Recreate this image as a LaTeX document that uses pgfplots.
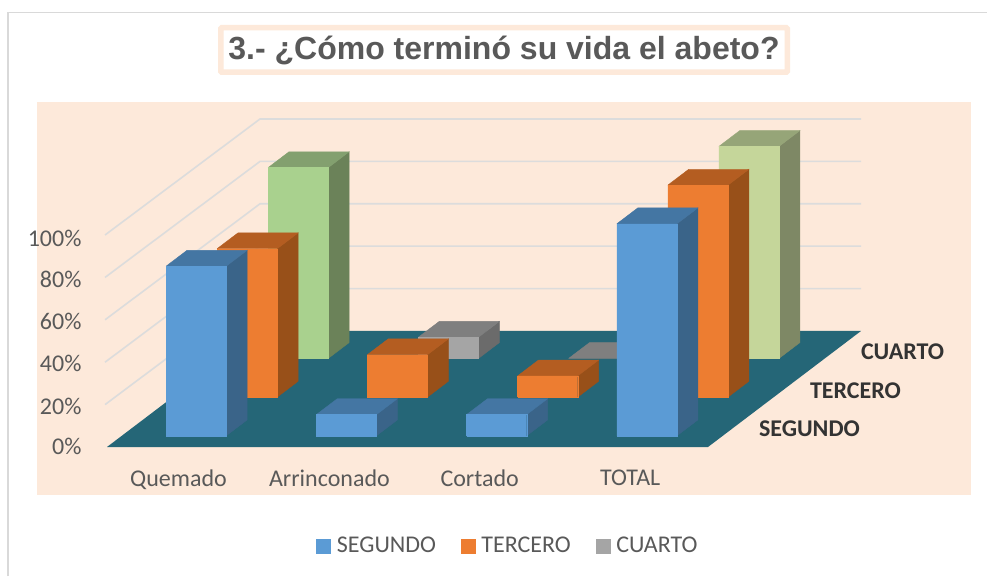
\documentclass[border=0pt]{standalone}
\usepackage{fontspec}
\usepackage{pgfplots}
\pgfplotsset{compat=1.18}
\setmainfont{Carlito}
\newfontfamily\titlefont{Liberation Sans}
\definecolor{peach}{HTML}{FDE9DA}
\definecolor{floorc}{HTML}{256677}
\definecolor{gridc}{HTML}{DCDCDC}
\definecolor{borderc}{HTML}{D9D9D9}
\definecolor{textc}{HTML}{595959}
\definecolor{serc}{HTML}{333333}
\definecolor{blueF}{HTML}{5B9BD5}\definecolor{blueS}{HTML}{3A6489}\definecolor{blueT}{HTML}{4476A3}
\definecolor{oranF}{HTML}{ED7D31}\definecolor{oranS}{HTML}{985019}\definecolor{oranT}{HTML}{B45D21}
\definecolor{grayF}{HTML}{A5A5A5}\definecolor{grayS}{HTML}{6B6B6B}\definecolor{grayT}{HTML}{7F7F7F}
\definecolor{grenF}{HTML}{A9D18E}\definecolor{grenS}{HTML}{6B8259}\definecolor{grenT}{HTML}{83A06F}
\definecolor{limeF}{HTML}{C5D69A}\definecolor{limeS}{HTML}{7E8865}\definecolor{limeT}{HTML}{96A578}
% #1 x0, #2 x1, #3 y0, #4 y1, #5 value, #6 colour prefix
\newcommand{\barthree}[6]{%
  \addplot3[forget plot,fill=#6S,draw=#6S,line width=0.4pt] coordinates {(#2,#3,0) (#2,#4,0) (#2,#4,#5) (#2,#3,#5) (#2,#3,0)};
  \addplot3[forget plot,fill=#6T,draw=#6T,line width=0.4pt] coordinates {(#1,#3,#5) (#2,#3,#5) (#2,#4,#5) (#1,#4,#5) (#1,#3,#5)};
  \addplot3[forget plot,fill=#6F,draw=#6F,line width=0.4pt] coordinates {(#1,#3,0) (#2,#3,0) (#2,#3,#5) (#1,#3,#5) (#1,#3,0)};
}
\begin{document}
\begin{tikzpicture}[x=1pt,y=1pt]
\useasboundingbox (0,0) rectangle (987,576);
\fill[white] (0,0) rectangle (987,576);
\draw[borderc,line width=1.3pt] (8,0) -- (8,563.5) -- (987,563.5);
\fill[peach] (37,81) rectangle (971,474);
\draw[peach,line width=5.5pt,fill=white,rounded corners=1pt] (220.75,503.75) rectangle (787.25,548.25);
\node[text=textc,font=\titlefont\bfseries\fontsize{32}{36}\selectfont,anchor=center] at (504,526) {3.- ¿Cómo terminó su vida el abeto?};
\begin{axis}[
  at={(107pt,129pt)},anchor=origin,
  x={(150.25pt,0pt)},y={(51pt,38.67pt)},z={(0pt,2.12pt)},
  xmin=0,xmax=4,ymin=0,ymax=3,zmin=0,zmax=100,
  clip=false,
  axis line style={draw=none},
  tick style={draw=none},
  xtick={0.5,1.5,2.5,3.5},
  xticklabels={Quemado,Arrinconado,Cortado,TOTAL},
  ytick={0.5,1.5,2.5},
  yticklabels={SEGUNDO,TERCERO,CUARTO},
  ztick={0,20,40,60,80,100},
  zticklabels={0\%,20\%,40\%,60\%,80\%,100\%},
  x tick label style={font=\fontsize{24}{26}\selectfont,text=textc,xshift=3pt,yshift=-19pt},
  y tick label style={font=\bfseries\fontsize{24}{26}\selectfont,text=serc,anchor=west,xshift=22pt,yshift=-1.5pt},
  z tick label style={font=\fontsize{24}{26}\selectfont,text=textc,xshift=-22pt,yshift=6.5pt},
  legend columns=3,
  legend style={at={(axis cs:2.669,0,-46.6)},anchor=center,draw=none,fill=none,
    font=\fontsize{24}{26}\selectfont,text=textc,
    /tikz/every even column/.append style={column sep=23pt},
    /tikz/every odd column/.append style={column sep=4pt}},
  legend image code/.code={\fill[#1] (0pt,-7pt) rectangle (14pt,7pt);},
]
\addplot3[forget plot,gridc,line width=1.6pt] coordinates {(-0.013,0,20) (0,3,20) (4,3,20)};
\addplot3[forget plot,gridc,line width=1.6pt] coordinates {(-0.013,0,40) (0,3,40) (4,3,40)};
\addplot3[forget plot,gridc,line width=1.6pt] coordinates {(-0.013,0,60) (0,3,60) (4,3,60)};
\addplot3[forget plot,gridc,line width=1.6pt] coordinates {(-0.013,0,80) (0,3,80) (4,3,80)};
\addplot3[forget plot,gridc,line width=1.6pt] coordinates {(-0.013,0,100) (0,3,100) (4,3,100)};
\addplot3[forget plot,fill=floorc,draw=none] coordinates {(0,0,0) (4,0,0) (4,3,0) (0,3,0) (0,0,0)};
\barthree{0.295}{0.695}{2.29}{2.70}{90}{gren}
\barthree{1.295}{1.695}{2.29}{2.70}{10}{gray}
\addplot3[forget plot,fill=grayT,draw=grayT,line width=0.4pt] coordinates {(2.295,2.29,0) (2.695,2.29,0) (2.695,2.70,0) (2.295,2.70,0) (2.295,2.29,0)};
\barthree{3.295}{3.695}{2.29}{2.70}{100}{lime}
\barthree{0.295}{0.695}{1.29}{1.70}{70}{oran}
\barthree{1.295}{1.695}{1.29}{1.70}{20}{oran}
\barthree{2.295}{2.695}{1.29}{1.70}{10}{oran}
\barthree{3.295}{3.695}{1.29}{1.70}{100}{oran}
\barthree{0.295}{0.695}{0.29}{0.70}{80}{blue}
\barthree{1.295}{1.695}{0.29}{0.70}{10}{blue}
\barthree{2.295}{2.695}{0.29}{0.70}{10}{blue}
\barthree{3.295}{3.695}{0.29}{0.70}{100}{blue}
\addlegendimage{blueF}\addlegendentry{SEGUNDO}
\addlegendimage{oranF}\addlegendentry{TERCERO}
\addlegendimage{grayF}\addlegendentry{CUARTO}
\end{axis}
\end{tikzpicture}
\end{document}
